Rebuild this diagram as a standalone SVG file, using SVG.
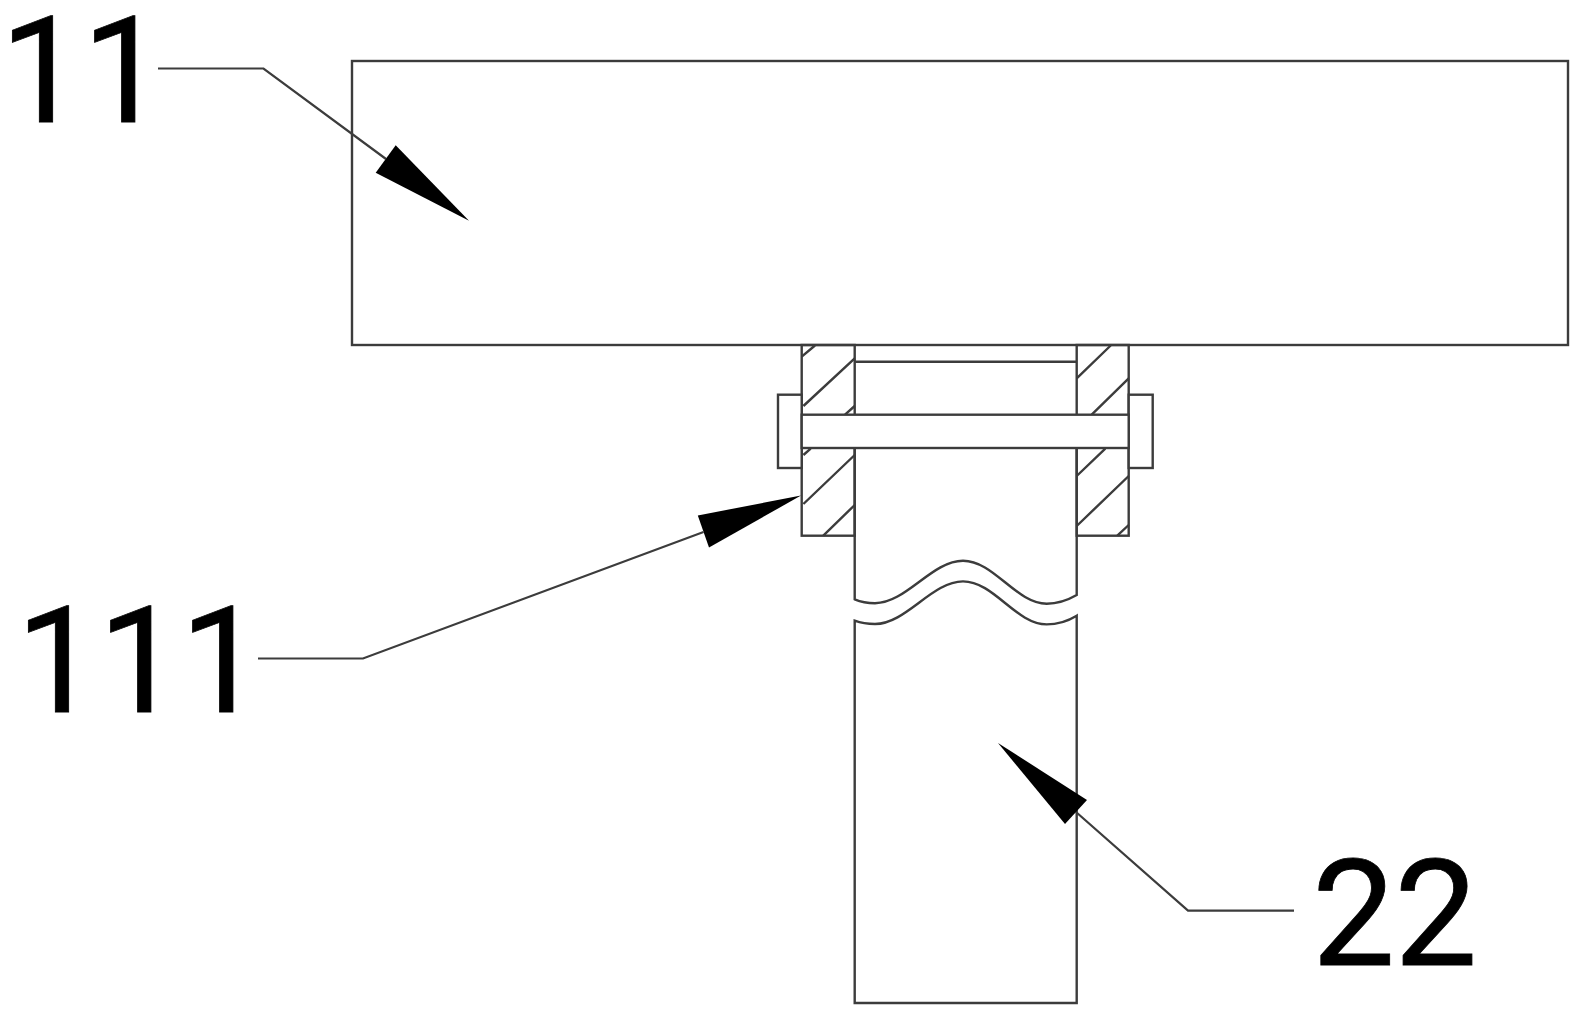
<svg xmlns="http://www.w3.org/2000/svg" width="1582" height="1017" viewBox="0 0 1582 1017">
<style>
.l{fill:none;stroke:#3c3c3c;stroke-width:2.4}
.w{fill:#fff;stroke:#3c3c3c;stroke-width:2.4}
.a{fill:#000;stroke:none}
.c{fill:none;stroke:#3c3c3c;stroke-width:2.2}
text{font-family:Roboto,"Liberation Sans",Arial,sans-serif;font-size:148px;fill:#000;stroke:#000;stroke-width:.8;letter-spacing:-1px}
</style>
<rect width="1582" height="1017" fill="#fff"/>
<g id="plate"><rect class="w" x="352" y="61" width="1216" height="284"/></g>
<g id="bracket">
<rect class="l" x="801.7" y="345" width="53" height="190.7"/>
<rect class="l" x="1076.7" y="345" width="52" height="190.7"/>
<path class="l" d="M801.7 356.700L815 345.500M803.400 406L854.700 358.300M845 414.700L854.700 406M803.400 455L810.700 448.700M803.400 504L854.700 455M823.300 535.700L854.700 505M1076.700 378.300L1110.700 345.500M1091.700 414.700L1128.700 378.300M1076.700 476L1105.300 448.700M1076.700 526L1128.700 476M1117.300 535.700L1128.700 525"/>
<path class="l" d="M854.700 361.700H1076.700"/>
</g>
<g id="pin">
<rect class="w" x="778" y="394.700" width="23.700" height="73.300"/>
<rect class="w" x="1128.700" y="394.700" width="24" height="73.300"/>
<rect class="w" x="801.700" y="414.700" width="327" height="33.300"/>
</g>
<g id="shaft">
<path class="l" d="M854.700 448V599.300C861 602 868 603.200 875 603.200C906 603.200 932 560.700 963 560.700C994 560.700 1016 603.700 1046.700 603.700C1058 603.700 1068 600 1076.700 595V448"/>
<path class="l" d="M854.700 1003V620.700C861 623 868 624 875 624C906 624 932 581.400 963 581.400C994 581.400 1016 624.400 1046.700 624.400C1058 624.400 1068 621 1076.700 615.700V1003Z"/>
</g>
<g id="connectors">
<path class="c" d="M158 68.500H263.500L386 159"/>
<polygon class="a" points="469,220.700 395.700,145.300 375.700,172.700"/>
<path class="c" d="M258 658.500H363L703.500 532"/>
<polygon class="a" points="801,495.500 697.800,515.500 709,547.600"/>
<path class="c" d="M1294 910.600H1188L1076 812"/>
<polygon class="a" points="998,743 1087,800 1065,824"/>
</g>
<g id="label-11"><text x="0" y="122">11</text></g>
<g id="label-111"><text x="16" y="711.500">111</text></g>
<g id="label-22"><text x="1312" y="965">22</text></g>
</svg>
